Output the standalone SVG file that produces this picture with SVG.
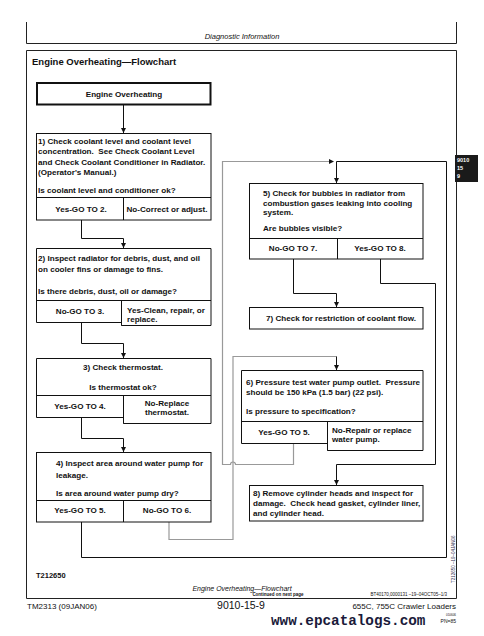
<svg xmlns="http://www.w3.org/2000/svg" width="484" height="636" viewBox="0 0 484 636">
<defs>
<style>
.fr{fill:none;stroke:#222;stroke-width:1}
.bx{fill:#fff;stroke:#111;stroke-width:1}
.t{font-family:"Liberation Sans",Arial,sans-serif;font-weight:bold;font-size:8.1px;fill:#111;white-space:pre}
.m{text-anchor:middle}
.c{fill:none;stroke:#111;stroke-width:1}
.g{fill:none;stroke:#999;stroke-width:1.2}
</style>
<marker id="ah" viewBox="0 0 6 6" refX="6" refY="3" markerWidth="5" markerHeight="5" orient="auto" markerUnits="userSpaceOnUse">
<path d="M0,0 L6,3 L0,6 Z" fill="#111"/>
</marker>
</defs>
<rect width="484" height="636" fill="#fff"/>
<!-- page frame -->
<g id="page">
<path class="fr" d="M26.5,22 V43.5 H456.5 V22"/>
<text x="242" y="39" class="m" style="font-family:'Liberation Sans',Arial,sans-serif;font-style:italic;font-size:7.5px;fill:#111">Diagnostic Information</text>
<path class="fr" d="M26.5,50.5 H456.5 V598.5 H26.5 Z"/>
<text x="32" y="65" style="font-family:'Liberation Sans',Arial,sans-serif;font-weight:bold;font-size:9.5px;fill:#111">Engine Overheating—Flowchart</text>
<rect x="455" y="155" width="23" height="27" fill="#1a1a1a"/>
<text x="457" y="162" style="font-family:'Liberation Sans',Arial,sans-serif;font-weight:bold;font-size:5.5px;fill:#fff">9010</text>
<text x="457" y="170" style="font-family:'Liberation Sans',Arial,sans-serif;font-weight:bold;font-size:5.5px;fill:#fff">15</text>
<text x="457" y="178" style="font-family:'Liberation Sans',Arial,sans-serif;font-weight:bold;font-size:5.5px;fill:#fff">9</text>
<text x="36" y="578" class="t" style="font-size:7.5px">T212650</text>
<text transform="translate(454.5,583) rotate(-90)" style="font-family:'Liberation Sans',Arial,sans-serif;font-size:4.5px;fill:#335">T212650 –19–04JAN06</text>
<text x="242" y="591" class="m" style="font-family:'Liberation Sans',Arial,sans-serif;font-style:italic;font-size:7px;fill:#111">Engine Overheating—Flowchart</text>
<text x="278" y="596" class="m" style="font-family:'Liberation Sans',Arial,sans-serif;font-weight:bold;font-size:4.5px;fill:#111">Continued on next page</text>
<text x="447" y="596" style="font-family:'Liberation Sans',Arial,sans-serif;font-size:4.5px;fill:#111;text-anchor:end">BT40170,0000131 –19–04OCT05–1/3</text>
<text x="27" y="609" style="font-family:'Liberation Sans',Arial,sans-serif;font-size:8px;fill:#111">TM2313 (09JAN06)</text>
<text x="241" y="609" class="m" style="font-family:'Liberation Sans',Arial,sans-serif;font-size:10.5px;fill:#111">9010-15-9</text>
<text x="456" y="609" style="font-family:'Liberation Sans',Arial,sans-serif;font-size:8px;fill:#111;text-anchor:end">655C, 755C Crawler Loaders</text>
<text x="456" y="615.5" style="font-family:'Liberation Sans',Arial,sans-serif;font-size:3px;fill:#111;text-anchor:end">010606</text>
<text x="271" y="625" style="font-family:'Liberation Mono','Courier New',monospace;font-weight:bold;font-size:14.3px;fill:#1a1a3a">www.epcatalogs.com</text>
<text x="456" y="623" style="font-family:'Liberation Sans',Arial,sans-serif;font-size:5px;fill:#111;text-anchor:end">PN=85</text>
</g>
<!-- connectors -->
<g id="connectors">
<path class="c" d="M123.5,105 V133" marker-end="url(#ah)"/>
<path class="c" d="M81.5,220 V238.5 H123.5 V248" marker-end="url(#ah)"/>
<path class="c" d="M81.5,322 V343.5 H123.5 V358" marker-end="url(#ah)"/>
<path class="c" d="M81.5,417 V438.5 H123.5 V452" marker-end="url(#ah)"/>
<path class="c" d="M81.5,522 V557.5 H446.5 V161.5 H336.5"/>
<path class="g" d="M293.5,443 V464.5 H235.5 A2.5,2.5 0 0 0 230.5,464.5 H222.5 V161.5 H330"/>
<path d="M329,159 L334,161.5 L329,164 Z" fill="#111"/>
<path class="c" d="M336.5,161.5 V183" marker-end="url(#ah)"/>
<path class="g" d="M169,522 V539.5 H233 V356.5 H336.5"/>
<path class="c" d="M336.5,356.5 V370" marker-end="url(#ah)"/>
<path class="c" d="M293.5,259 V293.5 H336.5 V307" marker-end="url(#ah)"/>
<path class="c" d="M380.5,259 V283.5 H435.5 V464.5 H336.5 V485" marker-end="url(#ah)"/>
</g>
<!-- nodes -->
<g id="start">
<rect x="37" y="83" width="173.5" height="21.5" fill="#fff" stroke="#111" stroke-width="2"/>
<text x="124" y="96.7" class="t m">Engine Overheating</text>
</g>
<g id="step1">
<rect class="bx" x="36.5" y="133.5" width="174.5" height="86.5"/>
<path class="c" d="M36.5,197.5 H211 M123.5,197.5 V220"/>
<text class="t" x="38" y="143.7">1) Check coolant level and coolant level</text>
<text class="t" x="38" y="154.4">concentration.  See Check Coolant Level</text>
<text class="t" x="38" y="165">and Check Coolant Conditioner in Radiator.</text>
<text class="t" x="38" y="175.4">(Operator's Manual.)</text>
<text class="t" x="38" y="192.7">Is coolant level and conditioner ok?</text>
<text class="t m" x="81" y="211.7">Yes-GO TO 2.</text>
<text class="t m" x="167" y="211.7">No-Correct or adjust.</text>
</g>
<g id="step2">
<path class="bx" d="M36.5,248.5 H211 V325.5 H121.5 V322.5 H36.5 Z"/>
<path class="c" d="M36.5,300.5 H211 M121.5,300.5 V325.5"/>
<text class="t" x="38" y="260.7">2) Inspect radiator for debris, dust, and oil</text>
<text class="t" x="38" y="271.7">on cooler fins or damage to fins.</text>
<text class="t" x="38" y="293.7">Is there debris, dust, oil or damage?</text>
<text class="t m" x="80" y="313.7">No-GO TO 3.</text>
<text class="t" x="127" y="312.7">Yes-Clean, repair, or</text>
<text class="t" x="127" y="321.7">replace.</text>
</g>
<g id="step3">
<path class="bx" d="M36.5,358.5 H211 V423.5 H123.5 V417.5 H36.5 Z"/>
<path class="c" d="M36.5,395.5 H211 M123.5,395.5 V423.5"/>
<text class="t m" x="123" y="369.7">3) Check thermostat.</text>
<text class="t m" x="123" y="389.7">Is thermostat ok?</text>
<text class="t m" x="80" y="408.7">Yes-GO TO 4.</text>
<text class="t m" x="167" y="405.7">No-Replace</text>
<text class="t m" x="167" y="414.7">thermostat.</text>
</g>
<g id="step4">
<rect class="bx" x="36.5" y="452.5" width="174.5" height="69.5"/>
<path class="c" d="M36.5,500.5 H211 M123.5,500.5 V522"/>
<text class="t" x="56" y="465.7">4) Inspect area around water pump for</text>
<text class="t" x="56" y="477.7">leakage.</text>
<text class="t" x="56" y="495.7">Is area around water pump dry?</text>
<text class="t m" x="80" y="512.7">Yes-GO TO 5.</text>
<text class="t m" x="167" y="512.7">No-GO TO 6.</text>
</g>
<g id="step5">
<rect class="bx" x="249.5" y="183.5" width="173.5" height="75.5"/>
<path class="c" d="M249.5,238.5 H423 M337.5,238.5 V259"/>
<text class="t" x="263" y="195.7">5) Check for bubbles in radiator from</text>
<text class="t" x="263" y="205.7">combustion gases leaking into cooling</text>
<text class="t" x="263" y="214.7">system.</text>
<text class="t" x="263" y="230.7">Are bubbles visible?</text>
<text class="t m" x="293" y="250.7">No-GO TO 7.</text>
<text class="t m" x="380" y="250.7">Yes-GO TO 8.</text>
</g>
<g id="step7">
<rect class="bx" x="249.5" y="307.5" width="173.5" height="21.5"/>
<text class="t m" x="341" y="320.7">7) Check for restriction of coolant flow.</text>
</g>
<g id="step6">
<path class="bx" d="M241.5,370.5 H423 V450.5 H327.5 V443.5 H241.5 Z"/>
<path class="c" d="M241.5,421.5 H423 M327.5,421.5 V450.5"/>
<text class="t" x="246" y="384.7">6) Pressure test water pump outlet.  Pressure</text>
<text class="t" x="246" y="394.7">should be 150 kPa (1.5 bar) (22 psi).</text>
<text class="t" x="246" y="413.7">Is pressure to specification?</text>
<text class="t m" x="284" y="434.7">Yes-GO TO 5.</text>
<text class="t" x="332" y="432.7">No-Repair or replace</text>
<text class="t" x="332" y="441.7">water pump.</text>
</g>
<g id="step8">
<rect class="bx" x="249.5" y="485.5" width="173.5" height="35.5"/>
<text class="t" x="253" y="495.7">8) Remove cylinder heads and inspect for</text>
<text class="t" x="253" y="505.7">damage.  Check head gasket, cylinder liner,</text>
<text class="t" x="253" y="515.7">and cylinder head.</text>
</g>
</svg>
